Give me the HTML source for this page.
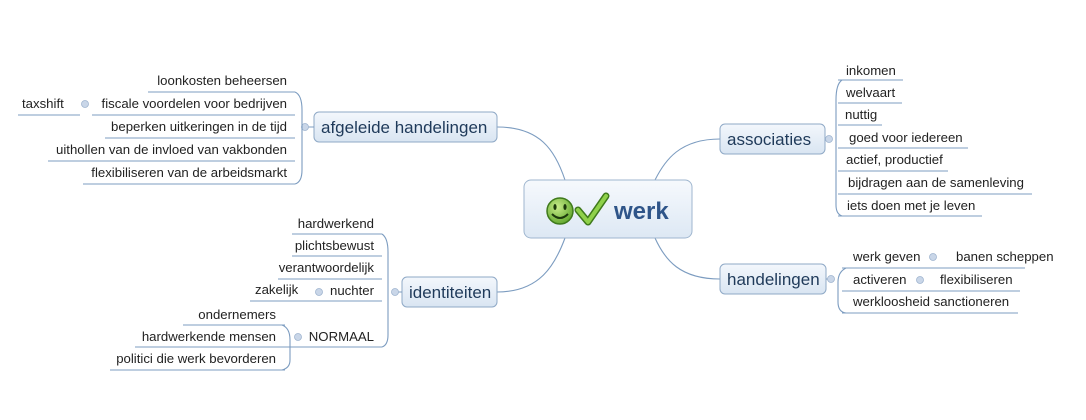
<!DOCTYPE html>
<html><head><meta charset="utf-8"><style>
html,body{margin:0;padding:0;background:#fff;}
svg{display:block}
text{font-family:"Liberation Sans",Arial,sans-serif;fill:#222;font-size:13.2px}
.m{font-size:17px;fill:#1f3a5a}
.u{stroke:#7c9cc0;stroke-width:1;fill:none}
.c{stroke:#7c9cc0;stroke-width:1.1;fill:none}
.box{fill:url(#g);stroke:#8fa9c6;stroke-width:1}
.dot{fill:#c9d6e8;stroke:#9fb4cf;stroke-width:.8}
</style></head><body>
<svg width="1086" height="420" viewBox="0 0 1086 420" xmlns="http://www.w3.org/2000/svg">
<defs>
<linearGradient id="g" x1="0" y1="0" x2="0" y2="1"><stop offset="0" stop-color="#f3f7fc"/><stop offset="1" stop-color="#d9e5f2"/></linearGradient>
<linearGradient id="gc" x1="0" y1="0" x2="0" y2="1"><stop offset="0" stop-color="#f6f9fd"/><stop offset="1" stop-color="#dde8f4"/></linearGradient>
<radialGradient id="sm" cx=".4" cy=".35" r=".7"><stop offset="0" stop-color="#c8ec8a"/><stop offset="1" stop-color="#5ea52a"/></radialGradient>
</defs>

<path class="c" d="M497 127 C540 127 555 150 565 180"/>
<path class="c" d="M720 139 C680 139 665 160 655 180"/>
<path class="c" d="M497 292 C540 292 555 265 565 238"/>
<path class="c" d="M720 279 C680 279 665 260 655 238"/>

<rect x="524" y="180" width="168" height="58" rx="7" fill="url(#gc)" stroke="#9fb6cf"/>
<circle cx="560" cy="211" r="13" fill="url(#sm)" stroke="#3f7a1c" stroke-width="1.5"/>
<ellipse cx="555" cy="207" rx="1.6" ry="3" fill="#1d3a0c"/>
<ellipse cx="565" cy="207" rx="1.6" ry="3" fill="#1d3a0c"/>
<path d="M552 214 Q560 222 568 214" stroke="#1d3a0c" stroke-width="2" fill="none"/>
<path d="M578 210 L588 222 L606 196" stroke="#3f7a1c" stroke-width="7" fill="none" stroke-linecap="round" stroke-linejoin="round"/>
<path d="M578 210 L588 222 L606 196" stroke="#8fd14a" stroke-width="4" fill="none" stroke-linecap="round" stroke-linejoin="round"/>
<text x="614" y="219" style="font-size:24px;font-weight:bold;fill:#2f5589">werk</text>

<rect class="box" x="314" y="112" width="183" height="30" rx="5"/>
<text class="m" x="321" y="133">afgeleide handelingen</text>
<line class="u" x1="305" y1="127" x2="314" y2="127"/>
<circle class="dot" cx="305" cy="127" r="3.5"/>
<path class="c" d="M295 92 Q302 95 302 110 L302 170 Q302 182 295 184"/>
<text x="287" y="85" text-anchor="end">loonkosten beheersen</text>
<line class="u" x1="148" y1="92" x2="295" y2="92"/>
<text x="287" y="108" text-anchor="end">fiscale voordelen voor bedrijven</text>
<line class="u" x1="92" y1="115" x2="295" y2="115"/>
<circle class="dot" cx="85" cy="104" r="3.5"/>
<text x="22" y="108">taxshift</text>
<line class="u" x1="18" y1="115" x2="80" y2="115"/>
<text x="287" y="131" text-anchor="end">beperken uitkeringen in de tijd</text>
<line class="u" x1="105" y1="138" x2="295" y2="138"/>
<text x="287" y="154" text-anchor="end">uithollen van de invloed van vakbonden</text>
<line class="u" x1="48" y1="161" x2="295" y2="161"/>
<text x="287" y="177" text-anchor="end">flexibiliseren van de arbeidsmarkt</text>
<line class="u" x1="83" y1="184" x2="295" y2="184"/>

<rect class="box" x="720" y="124" width="105" height="30" rx="5"/>
<text class="m" x="727" y="145">associaties</text>
<line class="u" x1="825" y1="139" x2="832" y2="139"/>
<circle class="dot" cx="829" cy="139" r="3.5"/>
<path class="c" d="M842 80 Q836 84 836 100 L836 205 Q836 214 842 216"/>
<text x="846" y="75">inkomen</text><line class="u" x1="838" y1="80" x2="903" y2="80"/>
<text x="846" y="97">welvaart</text><line class="u" x1="838" y1="103" x2="902" y2="103"/>
<text x="845" y="119">nuttig</text><line class="u" x1="838" y1="125" x2="882" y2="125"/>
<text x="849" y="142">goed voor iedereen</text><line class="u" x1="838" y1="148" x2="968" y2="148"/>
<text x="846" y="164">actief, productief</text><line class="u" x1="838" y1="171" x2="948" y2="171"/>
<text x="848" y="187">bijdragen aan de samenleving</text><line class="u" x1="838" y1="194" x2="1032" y2="194"/>
<text x="847" y="210">iets doen met je leven</text><line class="u" x1="838" y1="216" x2="982" y2="216"/>

<rect class="box" x="402" y="277" width="95" height="30" rx="5"/>
<text class="m" x="409" y="298">identiteiten</text>
<line class="u" x1="393" y1="292" x2="402" y2="292"/>
<circle class="dot" cx="395" cy="292" r="3.5"/>
<path class="c" d="M382 234 Q388 238 388 252 L388 335 Q388 345 382 347"/>
<text x="374" y="228" text-anchor="end">hardwerkend</text><line class="u" x1="292" y1="234" x2="382" y2="234"/>
<text x="374" y="250" text-anchor="end">plichtsbewust</text><line class="u" x1="292" y1="256" x2="382" y2="256"/>
<text x="374" y="272" text-anchor="end">verantwoordelijk</text><line class="u" x1="278" y1="279" x2="382" y2="279"/>
<text x="374" y="295" text-anchor="end">nuchter</text>
<circle class="dot" cx="319" cy="292" r="3.5"/>
<text x="255" y="294">zakelijk</text><line class="u" x1="250" y1="301" x2="382" y2="301"/>
<text x="374" y="341" text-anchor="end">NORMAAL</text>
<circle class="dot" cx="298" cy="337" r="3.5"/>
<line class="u" x1="135" y1="347" x2="382" y2="347"/>
<path class="c" d="M282 325 Q290 328 290 340 L290 360 Q290 368 282 370"/>
<text x="276" y="319" text-anchor="end">ondernemers</text><line class="u" x1="183" y1="325" x2="285" y2="325"/>
<text x="276" y="341" text-anchor="end">hardwerkende mensen</text>
<text x="276" y="363" text-anchor="end">politici die werk bevorderen</text><line class="u" x1="110" y1="370" x2="285" y2="370"/>

<rect class="box" x="720" y="264" width="106" height="30" rx="5"/>
<text class="m" x="727" y="285">handelingen</text>
<line class="u" x1="826" y1="279" x2="833" y2="279"/>
<circle class="dot" cx="831" cy="279" r="3.5"/>
<path class="c" d="M846 268 Q838 272 838 282 L838 302 Q838 312 846 313"/>
<text x="853" y="261">werk geven</text>
<circle class="dot" cx="933" cy="257" r="3.5"/>
<text x="956" y="261">banen scheppen</text>
<line class="u" x1="842" y1="268" x2="1025" y2="268"/>
<text x="853" y="284">activeren</text>
<circle class="dot" cx="920" cy="280" r="3.5"/>
<text x="940" y="284">flexibiliseren</text>
<line class="u" x1="842" y1="291" x2="1020" y2="291"/>
<text x="853" y="306">werkloosheid sanctioneren</text>
<line class="u" x1="842" y1="313" x2="1018" y2="313"/>
</svg>
</body></html>
